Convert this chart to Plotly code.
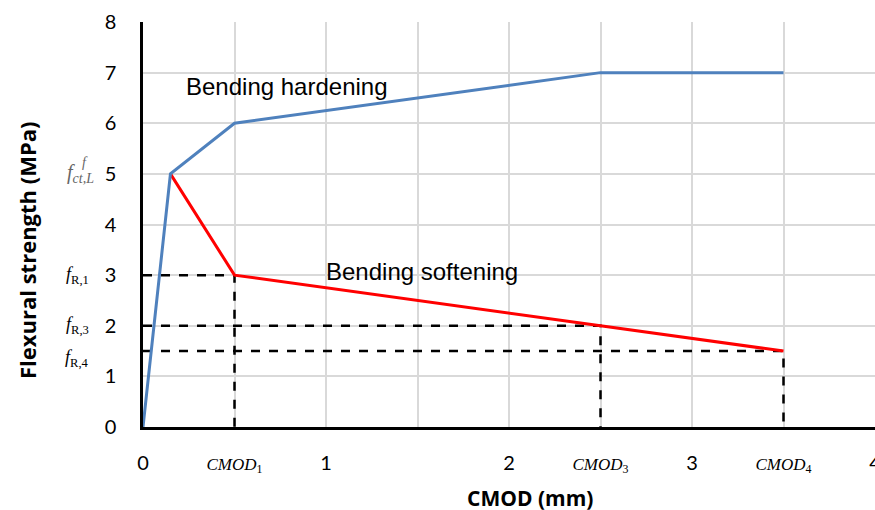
import plotly.graph_objects as go

# Data
hard_x = [0, 0.15, 0.5, 2.5, 3.5]
hard_y = [0, 5, 6, 7, 7]
soft_x = [0.15, 0.5, 2.5, 3.5]
soft_y = [5, 3, 2, 1.5]
# reference CMOD points and their residual strengths
cmod_x = [0.5, 2.5, 3.5]
fr_y = [3, 2, 1.5]

x_tickvals = [0, 0.5, 1, 1.5, 2, 2.5, 3, 3.5, 4]
serif = "font-family:'Liberation Serif','Times New Roman',serif;font-size:17px"
x_ticktext = ["0",
              f"<span style=\"{serif}\"><i>CMOD</i><sub>1</sub></span>",
              "1", "",
              "2",
              f"<span style=\"{serif}\"><i>CMOD</i><sub>3</sub></span>",
              "3",
              f"<span style=\"{serif}\"><i>CMOD</i><sub>4</sub></span>",
              "4"]
y_tickvals = [0, 1, 2, 3, 4, 5, 6, 7, 8]
fr_labels = ["<i>f</i><sub>R,1</sub>", "<i>f</i><sub>R,3</sub>", "<i>f</i><sub>R,4</sub>"]
fr_label_y = [3, 2, 1.36]

W, H = 875, 510
L, R, T, B = 143, 0, 22, 83
pw, ph = W - L - R, H - T - B


def px(xp):
    return (xp - L) / pw


def py(yp):
    return (H - B - yp) / ph


fig = go.Figure()

# dashed guide lines
for cx, fy in zip(cmod_x, fr_y):
    fig.add_trace(go.Scatter(x=[0, cx, cx], y=[fy, fy, 0], mode="lines",
                             line=dict(color="black", width=2.5, dash="dash"),
                             showlegend=False, hoverinfo="skip"))

fig.add_trace(go.Scatter(x=soft_x, y=soft_y, mode="lines",
                         line=dict(color="#FF0000", width=3), showlegend=False))
fig.add_trace(go.Scatter(x=hard_x, y=hard_y, mode="lines",
                         line=dict(color="#4F81BD", width=3), showlegend=False))

C = dict(xanchor="center", yanchor="middle", showarrow=False)
annotations = [
    dict(x=0.787, y=6.72, xref="x", yref="y", text="Bending hardening",
         font=dict(family="Liberation Sans, Arial", size=24, color="black"), **C),
    dict(x=1.525, y=3.08, xref="x", yref="y", text="Bending softening",
         font=dict(family="Liberation Sans, Arial", size=24, color="black"), **C),
    dict(x=px(80), y=5.0, xref="paper", yref="y", text="<i>f</i><sub><i>ct,L</i></sub>",
         font=dict(family="Liberation Serif", size=20, color="#666666"), **C),
    dict(x=px(85), y=py(163), xref="paper", yref="paper", text="<i>f</i>",
         font=dict(family="Liberation Serif", size=14, color="#666666"), **C),
    dict(x=px(530), y=py(498), xref="paper", yref="paper", text="<b>CMOD (mm)</b>",
         font=dict(family="Open Sans", size=21, color="black"), **C),
    dict(x=px(27), y=py(250), xref="paper", yref="paper", text="<b>Flexural strength (MPa)</b>",
         textangle=-90, font=dict(family="Open Sans", size=22, color="black"), **C),
]
for lab, ly in zip(fr_labels, fr_label_y):
    annotations.append(dict(x=px(77), y=ly, xref="paper", yref="y", text=lab,
                            font=dict(family="Liberation Serif", size=18, color="black"), **C))

fig.update_layout(
    width=W, height=H,
    margin=dict(l=L, r=R, t=T, b=B, autoexpand=False),
    plot_bgcolor="white", paper_bgcolor="white",
    font=dict(family="Lato, Open Sans, sans-serif", size=20, color="black"),
    annotations=annotations,
    xaxis=dict(range=[0, 4], tickvals=x_tickvals, ticktext=x_ticktext,
               showgrid=True, gridcolor="#D9D9D9", gridwidth=2,
               showline=True, linecolor="black", linewidth=2.5,
               zeroline=False, ticks="", ticklabelstandoff=16, automargin=False,
               ticklabeloverflow="allow"),
    yaxis=dict(range=[0, 8], tickvals=y_tickvals,
               showgrid=True, gridcolor="#D9D9D9", gridwidth=2,
               showline=True, linecolor="black", linewidth=2.5,
               zeroline=False, ticks="", ticklabelstandoff=20, automargin=False),
)

fig.write_html("out.html", config={"displayModeBar": False},
               post_script="document.body.style.margin='0';document.body.style.overflow='hidden';")
